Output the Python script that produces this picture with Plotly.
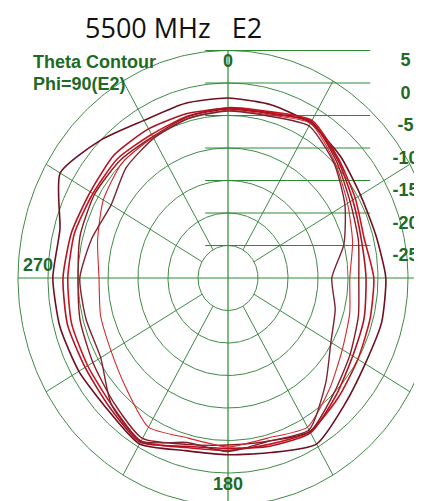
import numpy as np
import plotly.graph_objects as go

# ---------------- data ----------------
angles = [0, 15, 30, 45, 60, 75, 90, 105, 120, 135, 150, 165,
          180, 195, 210, 225, 240, 255, 270, 285, 300, 315, 330, 345]

c1 = [-2.3, -2.4, -2.5, -3.5, -4.5, -4.5, -3.7, -3.5, -3.6, -2.5, -0.5, -2.2,
      -2.8, -2.5, -0.5, -1.5, -1.3, -1.0, -0.8, -1.0, 2.3, 0.0, -2.0, -2.2]
c2 = [-3.8, -3.5, -2.0, -4.0, -5.5, -6.5, -5.7, -5.5, -5.0, -4.0, -2.7, -3.5,
      -3.5, -3.0, -1.0, -2.5, -3.0, -3.0, -3.3, -3.5, -4.0, -4.0, -4.5, -4.2]
c3 = [-4.0, -3.8, -2.2, -4.5, -6.5, -7.5, -8.2, -7.5, -6.5, -5.0, -2.7, -4.0,
      -4.3, -3.5, -1.5, -3.0, -4.0, -4.5, -5.0, -4.5, -4.3, -4.5, -4.9, -4.3]
c4 = [-4.2, -4.0, -2.5, -4.8, -7.0, -8.5, -9.7, -9.0, -8.0, -6.0, -3.5, -4.5,
      -4.0, -4.5, -3.5, -6.0, -7.5, -8.0, -8.5, -7.5, -6.0, -5.0, -5.0, -4.5]
c5 = [-4.3, -4.2, -3.0, -5.0, -7.5, -10.0, -12.7, -11.5, -10.2, -7.0, -3.0, -4.0,
      -3.3, -3.8, -1.0, -2.5, -5.5, -5.5, -5.3, -6.5, -7.5, -6.0, -5.2, -4.6]
c6 = [-3.9, -3.7, -2.3, -4.2, -6.0, -7.0, -7.0, -6.5, -6.0, -4.5, -2.5, -3.2,
      -3.8, -3.2, -0.8, -2.0, -2.5, -2.3, -2.5, -3.0, -3.5, -3.2, -3.5, -3.8]

ring_values = [5, 0, -5, -10, -15, -20, -25]
ring_labels = ["5", "0", "-5", "-10", "-15", "-20", "-25"]
spoke_angles = [30, 60, 120, 150, 210, 240, 300, 330]
r_min = -30
r_max = 5

title_text = "5500 MHz   E2"
legend_lines = ["Theta Contour", "Phi=90(E2)"]

# ---------------- style ----------------
curve_colors = ["#6e1020", "#c8141e", "#8a1a22", "#d8262a", "#7a2434", "#b01222"]
curve_widths = [1.6, 1.6, 1.4, 1.1, 1.4, 1.6]
grid_color = "#3f8a45"
axis_green = "#2e8b35"
text_green = "#1f6a24"

fig = go.Figure()


def to_xy(theta_deg, r):
    th = np.radians(np.asarray(theta_deg, dtype=float))
    u = np.asarray(r, dtype=float) - r_min
    return u * np.sin(th), u * np.cos(th)


# rings
t = np.linspace(0, 360, 361)
for rv in ring_values:
    x, y = to_xy(t, np.full_like(t, rv))
    fig.add_trace(go.Scatter(x=x, y=y, mode="lines",
                             line=dict(color=grid_color, width=1),
                             hoverinfo="skip", showlegend=False))

# spokes
for a in spoke_angles:
    x, y = to_xy([a, a], [ring_values[-1], r_max])
    fig.add_trace(go.Scatter(x=x, y=y, mode="lines",
                             line=dict(color=grid_color, width=1),
                             hoverinfo="skip", showlegend=False))
# main axes (through centre)
for a in [0, 90]:
    x, y = to_xy([a, a + 180], [r_max, r_max])
    fig.add_trace(go.Scatter(x=x, y=y, mode="lines",
                             line=dict(color=axis_green, width=1.2),
                             hoverinfo="skip", showlegend=False))

# horizontal reference lines to the dB labels
for rv in ring_values:
    u = rv - r_min
    fig.add_trace(go.Scatter(x=[-3.8, 23.7], y=[u, u], mode="lines",
                             line=dict(color=axis_green, width=1.2),
                             hoverinfo="skip", showlegend=False))

# pattern curves
for vals, col, w in zip([c1, c2, c3, c4, c5, c6], curve_colors, curve_widths):
    x, y = to_xy(angles + [angles[0]], vals + [vals[0]])
    fig.add_trace(go.Scatter(x=x, y=y, mode="lines",
                             line=dict(color=col, width=w, shape="spline", smoothing=0.6),
                             hoverinfo="skip", showlegend=False))

fnt = dict(family="Liberation Sans, Arial", size=18, color=text_green, weight="bold")

# dB labels at the right
fig.add_trace(go.Scatter(
    x=[29.6] * len(ring_values),
    y=[rv - r_min - 1.7 for rv in ring_values],
    mode="text", text=ring_labels, textposition="middle center",
    textfont=fnt, hoverinfo="skip", showlegend=False, cliponaxis=False))

ann = []
ann.append(dict(x=0, y=33.4, text="0", showarrow=False, font=fnt,
                xanchor="center", yanchor="middle"))
ann.append(dict(x=-31.67, y=2.0, text="270", showarrow=False, font=fnt,
                xanchor="center", yanchor="middle"))
ann.append(dict(x=0, y=-31.7, text="180", showarrow=False, font=fnt,
                xanchor="center", yanchor="middle"))
ann.append(dict(x=-32.8, y=33.2, text=legend_lines[0], showarrow=False,
                xanchor="left", yanchor="middle", font=fnt))
ann.append(dict(x=-32.8, y=29.9, text=legend_lines[1], showarrow=False,
                xanchor="left", yanchor="middle", font=fnt))
ann.append(dict(xref="paper", yref="paper", x=165 / 422, y=1,
                text=title_text, showarrow=False, xanchor="center", yanchor="top",
                borderpad=0,
                font=dict(family="Open Sans, Liberation Sans", size=27, color="#111111")))

# page has an 8px body margin -> place the centre at figure (220, 270)
fig.update_layout(
    width=422, height=501,
    margin=dict(l=0, r=0, t=0, b=0),
    paper_bgcolor="white", plot_bgcolor="white",
    xaxis=dict(range=[-220 / 6, (422 - 220) / 6], visible=False, fixedrange=True),
    yaxis=dict(range=[-(501 - 270) / 6.5, 270 / 6.5], visible=False, fixedrange=True),
    annotations=ann,
    showlegend=False,
)

fig.write_html("out.html")
